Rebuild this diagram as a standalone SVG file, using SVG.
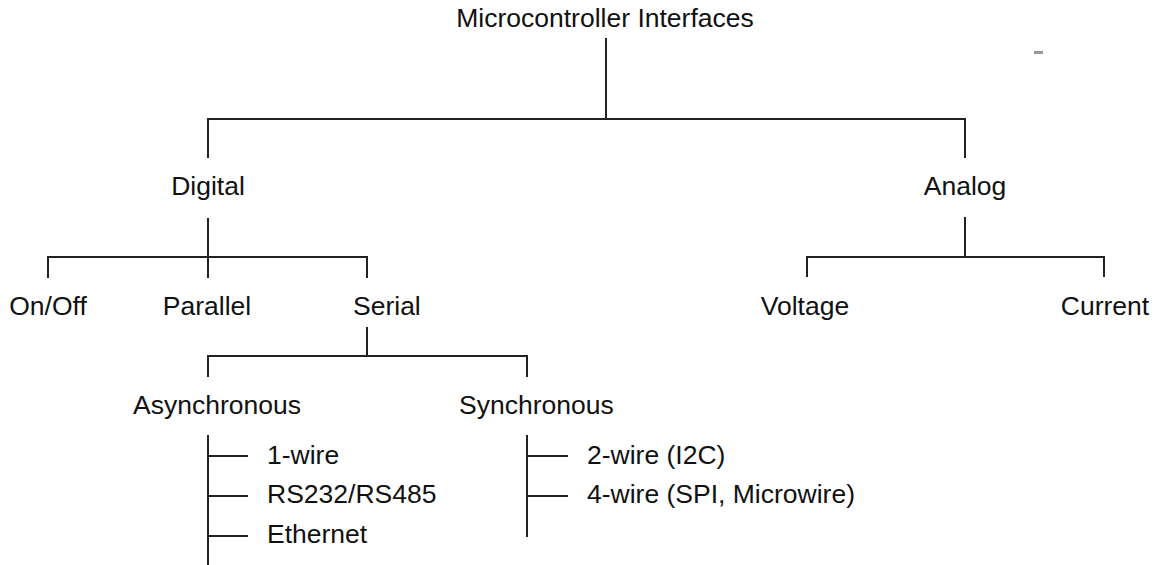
<svg xmlns="http://www.w3.org/2000/svg" width="1154" height="565" viewBox="0 0 1154 565">
<style>
.t{font-family:"Liberation Sans",Arial,sans-serif;font-size:26.5px;fill:#111}
.c line{stroke:#222;stroke-width:2;stroke-linecap:butt}
</style>
<rect width="1154" height="565" fill="#fff"/>
<g class="c" id="connectors">
<line x1="606" y1="38" x2="606" y2="119"/>
<line x1="207" y1="119" x2="966" y2="119"/>
<line x1="208" y1="118" x2="208" y2="158"/>
<line x1="965" y1="118" x2="965" y2="158"/>
<line x1="208" y1="218" x2="208" y2="278"/>
<line x1="47" y1="257" x2="368" y2="257"/>
<line x1="48" y1="256" x2="48" y2="278"/>
<line x1="367" y1="256" x2="367" y2="278"/>
<line x1="965" y1="217" x2="965" y2="257"/>
<line x1="806" y1="257" x2="1105" y2="257"/>
<line x1="807" y1="256" x2="807" y2="277"/>
<line x1="1104" y1="256" x2="1104" y2="277"/>
<line x1="367" y1="327" x2="367" y2="356"/>
<line x1="207" y1="356" x2="528" y2="356"/>
<line x1="208" y1="355" x2="208" y2="377"/>
<line x1="527" y1="355" x2="527" y2="377"/>
<line x1="208" y1="435" x2="208" y2="565"/>
<line x1="208" y1="456" x2="248" y2="456"/>
<line x1="208" y1="496" x2="248" y2="496"/>
<line x1="208" y1="536" x2="248" y2="536"/>
<line x1="527" y1="435" x2="527" y2="537"/>
<line x1="527" y1="456" x2="568" y2="456"/>
<line x1="527" y1="496" x2="568" y2="496"/>
</g>
<g id="root"><text class="t" x="605" y="27" text-anchor="middle">Microcontroller Interfaces</text></g>
<g id="digital"><text class="t" x="208" y="195" text-anchor="middle">Digital</text></g>
<g id="analog"><text class="t" x="965" y="195" text-anchor="middle">Analog</text></g>
<g id="onoff"><text class="t" x="48" y="315" text-anchor="middle">On/Off</text></g>
<g id="parallel"><text class="t" x="207" y="315" text-anchor="middle">Parallel</text></g>
<g id="serial"><text class="t" x="353" y="315">Serial</text></g>
<g id="voltage"><text class="t" x="805" y="315" text-anchor="middle">Voltage</text></g>
<g id="current"><text class="t" x="1105" y="315" text-anchor="middle">Current</text></g>
<g id="async"><text class="t" x="133" y="414">Asynchronous</text></g>
<g id="sync"><text class="t" x="459" y="414">Synchronous</text></g>
<g id="onewire"><text class="t" x="267" y="464">1-wire</text></g>
<g id="rs232"><text class="t" x="267" y="503">RS232/RS485</text></g>
<g id="ethernet"><text class="t" x="267" y="543">Ethernet</text></g>
<g id="twowire"><text class="t" x="587" y="464">2-wire (I2C)</text></g>
<g id="fourwire"><text class="t" x="587" y="503">4-wire (SPI, Microwire)</text></g>
<rect x="1034" y="51" width="9" height="3" fill="#999"/>
</svg>
